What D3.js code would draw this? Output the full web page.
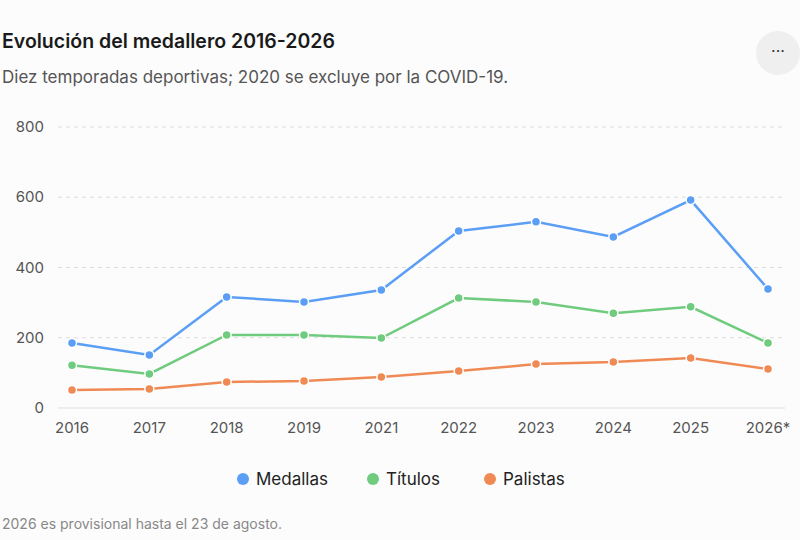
<!DOCTYPE html>
<html><head><meta charset="utf-8">
<script src="https://cdn.jsdelivr.net/npm/d3@7"></script>
<style>
body{margin:0;background:#fcfcfc;font-family:Inter,"Noto Sans",sans-serif;}
</style></head><body>
<svg id="c" width="800" height="540"></svg>
<script>
const years = ["2016","2017","2018","2019","2021","2022","2023","2024","2025","2026*"];
const medallas = [185,151,316,302,336,504,530,487,592,339];
const titulos = [122,97,208,208,199,313,302,270,288,185];
const palistas = [51,54,74,77,88,105,125,131,142,111];
const yTicks = [0,200,400,600,800];

const series = [
  {name:"Medallas", values:medallas, color:"#5b9ef5"},
  {name:"Títulos", values:titulos, color:"#6fcb7e"},
  {name:"Palistas", values:palistas, color:"#f08a55"}
];

const svg = d3.select("#c");
svg.append("rect").attr("width",800).attr("height",540).attr("fill","#fcfcfc");

svg.append("text").attr("x",2).attr("y",48).attr("font-size",19.5).attr("font-weight",600)
  .attr("fill","#1a1a1a").text("Evolución del medallero 2016-2026");
svg.append("text").attr("x",2).attr("y",83).attr("font-size",17).attr("fill","#555")
  .text("Diez temporadas deportivas; 2020 se excluye por la COVID-19.");
svg.append("circle").attr("cx",778).attr("cy",53).attr("r",22).attr("fill","#efefef");
svg.append("text").attr("x",778).attr("y",57).attr("text-anchor","middle").attr("font-size",16)
  .attr("fill","#333").text("···");

const x = d3.scalePoint().domain(years).range([72,768]);
const y = d3.scaleLinear().domain([0,800]).range([408,127]);

const g = svg.append("g");
yTicks.forEach(t=>{
  g.append("line").attr("x1",58).attr("x2",785).attr("y1",y(t)).attr("y2",y(t))
    .attr("stroke","#ddd").attr("stroke-dasharray",t===0?null:"4,4");
  g.append("text").attr("x",44).attr("y",y(t)+5).attr("text-anchor","end")
    .attr("font-size",15).attr("fill","#555").text(t);
});
years.forEach(yr=>{
  g.append("text").attr("x",x(yr)).attr("y",433).attr("text-anchor","middle")
    .attr("font-size",15).attr("fill","#555").text(yr);
});

const line = d3.line().x((d,i)=>x(years[i])).y(d=>y(d));
series.forEach(s=>{
  g.append("path").attr("d",line(s.values)).attr("fill","none")
    .attr("stroke",s.color).attr("stroke-width",2.5);
  g.selectAll(null).data(s.values).enter().append("circle")
    .attr("cx",(d,i)=>x(years[i])).attr("cy",d=>y(d)).attr("r",4.5)
    .attr("fill",s.color).attr("stroke","#fff").attr("stroke-width",1.5);
});

const lx = [243,373,490];
series.forEach((s,i)=>{
  svg.append("circle").attr("cx",lx[i]).attr("cy",479).attr("r",6).attr("fill",s.color);
  svg.append("text").attr("x",lx[i]+13).attr("y",485).attr("font-size",17)
    .attr("fill","#222").text(s.name);
});

svg.append("text").attr("x",2).attr("y",529).attr("font-size",14).attr("fill","#888")
  .text("2026 es provisional hasta el 23 de agosto.");
</script>
</body></html>
